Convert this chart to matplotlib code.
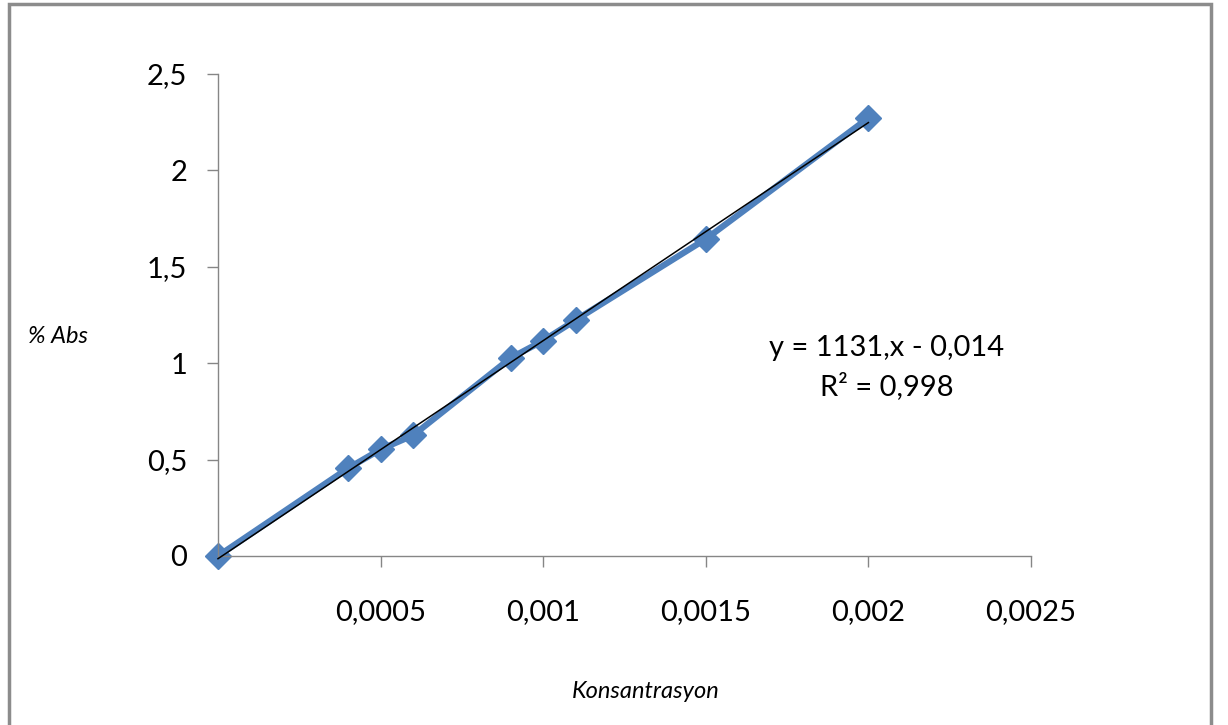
import numpy as np
import matplotlib
matplotlib.use('Agg')
import matplotlib.pyplot as plt
from matplotlib.patches import Rectangle

# data
konsantrasyon = [0, 0.0004, 0.0005, 0.0006, 0.0009, 0.001, 0.0011, 0.0015, 0.002]
absorbans = [0, 0.455, 0.553, 0.626, 1.027, 1.117, 1.224, 1.644, 2.272]

# trendline shown on the chart
slope = 1131
intercept = -0.014
eq_text = 'y = 1131,x - 0,014'
r2_text = 'R² = 0,998'

x_ticks = [0.0005, 0.001, 0.0015, 0.002, 0.0025]
x_labels = ['0,0005', '0,001', '0,0015', '0,002', '0,0025']
y_ticks = [0, 0.5, 1, 1.5, 2, 2.5]
y_labels = ['0', '0,5', '1', '1,5', '2', '2,5']

plt.rcParams['font.family'] = ['Lato', 'DejaVu Sans']
axis_grey = '#868686'

fig = plt.figure(figsize=(12.28, 7.25), dpi=100)
ax = fig.add_axes([218/1228, 1 - 556/725, (1031-218)/1228, (556-74)/725])

ax.plot(konsantrasyon, absorbans, color='#4F81BD', lw=4.5, marker='D', ms=13,
        solid_joinstyle='round', zorder=2, clip_on=False)
xt = np.array([konsantrasyon[0], konsantrasyon[-1]])
ax.plot(xt, slope * xt + intercept, color='black', lw=1.1, zorder=3, clip_on=False)

ax.set_xlim(0, 0.0025)
ax.set_ylim(0, 2.5)
ax.set_xticks(x_ticks)
ax.set_xticklabels(x_labels)
ax.set_yticks(y_ticks)
ax.set_yticklabels(y_labels)
ax.tick_params(axis='x', length=8, width=1, color=axis_grey, pad=23, labelsize=21)
ax.tick_params(axis='y', length=8, width=1, color=axis_grey, pad=14, labelsize=21)

for s in ['top', 'right']:
    ax.spines[s].set_visible(False)
for s in ['left', 'bottom']:
    ax.spines[s].set_color(axis_grey)
    ax.spines[s].set_linewidth(1)

fig.text(887/1228, 1 - 348/725, eq_text, ha='center', va='center', fontsize=21)
fig.text(887/1228, 1 - 386/725, r2_text, ha='center', va='center', fontsize=21)

fig.text(58/1228, 1 - 336/725, '% Abs', ha='center', va='center', fontsize=17, style='italic')
fig.text(646/1228, 1 - 692/725, 'Konsantrasyon', ha='center', va='center', fontsize=17, style='italic')

# chart area border (open at the bottom of the crop)
fig.patches.append(Rectangle((9/1228, -0.02), (1211-9)/1228, 1.02 - 4/725,
                             transform=fig.transFigure, fill=False,
                             edgecolor='#8c8c8c', lw=2.5, clip_on=False))

fig.savefig('out.png', dpi=100)
